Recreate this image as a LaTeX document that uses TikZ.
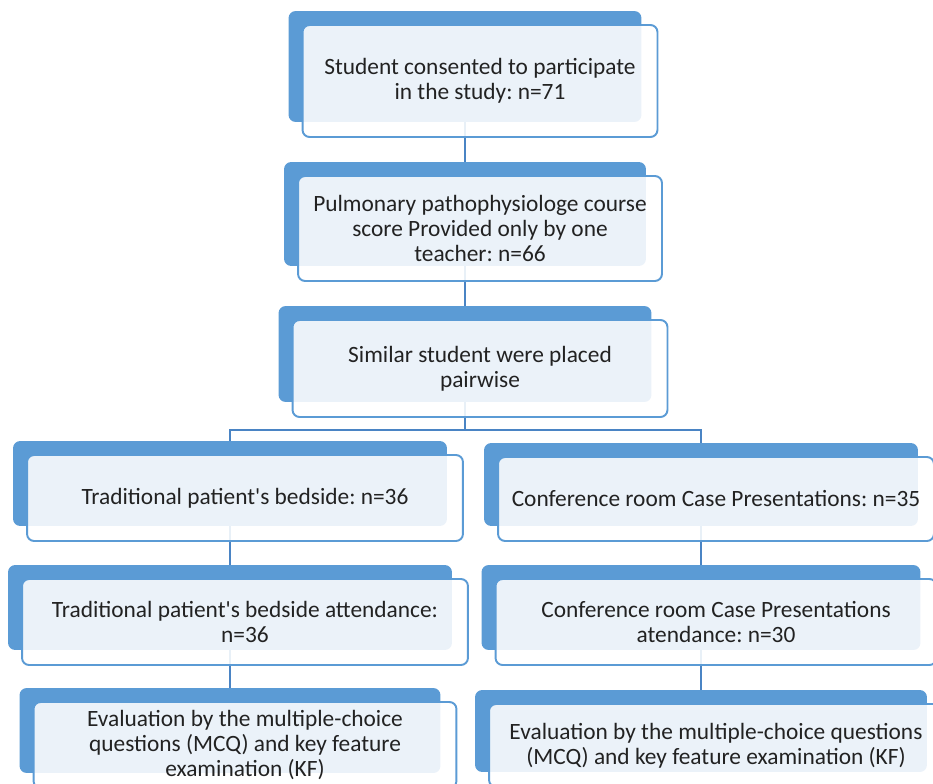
\documentclass[tikz,border=0pt]{standalone}
\usepackage{fontspec}
\setmainfont{Carlito}
\frenchspacing
\usepackage{tikz}
\usetikzlibrary{backgrounds, calc}
\definecolor{myblue}{RGB}{91,155,213}
\definecolor{mylink}{RGB}{74,132,196}
\definecolor{mytext}{RGB}{34,34,34}
\tikzset{
  stagebox/.style={rectangle, draw=myblue, fill=white, fill opacity=0.88,
    text opacity=1, line width=1.1pt, rounded corners=0.14cm, align=center,
    inner sep=0pt, text=mytext, font=\fontsize{13.3}{14.2}\selectfont},
  backbox/.style={fill=myblue, rounded corners=0.14cm},
  link/.style={line width=1.1pt, color=mylink}
}

\begin{document}
\begin{tikzpicture}[x=0.02cm, y=-0.02cm]
  \clip (0,0) rectangle (933,784);

  \node[stagebox, minimum width=7.1cm, minimum height=2.24cm] (consent) at (480,81)
    {Student consented to participate\\in the study: n=71};
  \node[stagebox, minimum width=7.28cm, minimum height=2.1cm] (score) at (480,228.5)
    {Pulmonary pathophysiologe course\\score Provided only by one\\teacher: n=66};
  \node[stagebox, minimum width=7.5cm, minimum height=1.94cm] (pair) at (480,368.5)
    {Similar student were placed\\pairwise};
  \node[stagebox, minimum width=8.72cm, minimum height=1.72cm] (bed) at (245,498)
    {Traditional patient\textquotesingle s bedside: n=36};
  \node[stagebox, minimum width=8.72cm, minimum height=1.68cm] (conf) at (716,499)
    {Conference room Case Presentations: n=35};
  \node[stagebox, minimum width=8.92cm, minimum height=1.72cm] (bedatt) at (245,622)
    {Traditional patient\textquotesingle s bedside attendance:\\n=36};
  \node[stagebox, minimum width=8.82cm, minimum height=1.72cm] (confatt) at (716,622)
    {Conference room Case Presentations\\atendance: n=30};
  \node[stagebox, minimum width=8.46cm, minimum height=1.72cm] (evalbed) at (245,745)
    {Evaluation by the multiple-choice\\questions (MCQ) and key feature\\examination (KF)};
  \node[stagebox, minimum width=9.08cm, minimum height=1.66cm] (evalconf) at (716,745.5)
    {Evaluation by the multiple-choice questions\\(MCQ) and key feature examination (KF)};

  \begin{scope}[on background layer]
    \foreach \n in {consent,score,pair,bed,conf,bedatt,confatt,evalbed,evalconf}
      \coordinate (\n-c) at ([shift={(-15,-14.5)}]\n.center);
    \coordinate (fork) at (465,430);
    \draw[link] (consent-c) -- (score-c);
    \draw[link] (score-c) -- (pair-c);
    \draw[link] (pair-c) -- (fork);
    \draw[link] (bed-c) |- (fork) -| (conf-c);
    \draw[link] (bed-c) -- (bedatt-c);
    \draw[link] (bedatt-c) -- (evalbed-c);
    \draw[link] (conf-c) -- (confatt-c);
    \draw[link] (confatt-c) -- (evalconf-c);
    \foreach \n in {consent,score,pair,bed,conf,bedatt,confatt,evalbed,evalconf}
      \fill[backbox] ([shift={(-13,-13)}]\n.north west) rectangle ([shift={(-17,-16)}]\n.south east);
  \end{scope}
\end{tikzpicture}
\end{document}
